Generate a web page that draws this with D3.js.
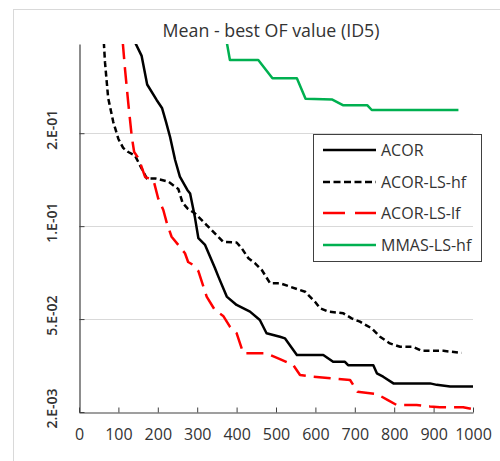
<!DOCTYPE html>
<html><head><meta charset="utf-8">
<script src="https://cdn.jsdelivr.net/npm/d3@7"></script>
<style>body{margin:0;background:#fff}svg{display:block}</style>
</head><body><svg id="c" width="500" height="461"></svg>
<script>
const title = "Mean - best OF value (ID5)";
const xTicks = [0,100,200,300,400,500,600,700,800,900,1000];
const yTicks = [0.002,0.052,0.102,0.152];
const yTickLabels = ["2.E-03","5.E-02","1.E-01","2.E-01"];
const seriesNames = ["ACOR","ACOR-LS-hf","ACOR-LS-lf","MMAS-LS-hf"];

const acorX = [142,159,173,197,211,221,231,244,256,275,282,294,303,320,345,354,375,400,434,459,476,510,523,553,620,645,675,683,747,756,772,798,891,908,942,1000];
const acorY = [0.201,0.1936,0.1782,0.1699,0.1654,0.158,0.1501,0.1376,0.1286,0.1215,0.1196,0.107,0.0955,0.0919,0.0795,0.0747,0.0641,0.0596,0.056,0.0515,0.0444,0.0425,0.0416,0.0327,0.0327,0.029,0.029,0.0272,0.0272,0.0228,0.021,0.0174,0.0174,0.0166,0.0157,0.0157];

const hfX = [63,66,74,87,100,112,125,142,172,193,227,252,263,277,294,324,354,366,400,413,430,447,464,485,510,536,574,599,612,633,671,692,713,743,764,789,815,848,870,925,971];
const hfY = [0.201,0.1901,0.171,0.158,0.1489,0.1441,0.1419,0.14,0.1277,0.1277,0.1259,0.122,0.1145,0.1112,0.1089,0.1026,0.0961,0.0935,0.0932,0.0901,0.0847,0.082,0.0784,0.0713,0.0713,0.0694,0.0667,0.0613,0.0578,0.056,0.0551,0.0524,0.0506,0.047,0.0425,0.0389,0.0371,0.0371,0.0349,0.0349,0.0338];

const lfX = [111,117,125,134,140,151,168,189,201,214,223,235,252,269,277,290,303,324,345,366,383,400,417,468,485,510,544,561,595,645,688,707,756,784,806,857,891,916,975,997];
const lfY = [0.201,0.186,0.1683,0.15,0.1419,0.1385,0.1284,0.1268,0.1169,0.1107,0.1036,0.0963,0.0919,0.0874,0.0827,0.0811,0.0778,0.0641,0.0568,0.0537,0.0479,0.0444,0.0336,0.0336,0.0327,0.0305,0.0272,0.0219,0.021,0.0201,0.0192,0.0129,0.0117,0.0084,0.0058,0.0058,0.005,0.0046,0.0046,0.0036];

const mmasX = [375,383,455,491,553,575,643,671,732,743,963];
const mmasY = [0.201,0.1914,0.1914,0.1816,0.1816,0.1706,0.1701,0.167,0.167,0.1645,0.1645];

const FONT = "'Open Sans', sans-serif";
const TXT = "#333333";
const svg = d3.select("#c");
const L = 79, R = 473, T = 44, B = 412;
const x = d3.scaleLinear().domain([0,1000]).range([L,R]);
const y = d3.scaleLinear().domain([0.002,0.2]).range([B,T]);

// outer chart frame
svg.append("rect").attr("x",13.5).attr("y",9.5).attr("width",520).attr("height",470)
  .attr("fill","none").attr("stroke","#d9d9d9").attr("stroke-width",1);

// title
svg.append("text").attr("x",271).attr("y",37).attr("text-anchor","middle")
  .attr("font-family",FONT).attr("font-size",17.8).attr("fill",TXT).text(title);

// gridlines
svg.append("g").selectAll("line").data(yTicks.slice(1)).join("line")
  .attr("x1",L).attr("x2",R).attr("y1",d=>Math.round(y(d))+0.5).attr("y2",d=>Math.round(y(d))+0.5)
  .attr("stroke","#d9d9d9").attr("stroke-width",1);

// axes
const xAxis = svg.append("g").attr("transform",`translate(0,${B+0.5})`)
  .call(d3.axisBottom(x).tickValues(xTicks).tickFormat(d3.format("d")).tickSizeInner(-5).tickSizeOuter(0).tickPadding(16));
xAxis.select(".domain").attr("stroke","#404040").attr("stroke-width",1.2);
xAxis.selectAll(".tick line").attr("stroke","#404040");
xAxis.selectAll("text").attr("font-family",FONT).attr("font-size",16).attr("fill",TXT);

const yAxis = svg.append("g").attr("transform",`translate(${L+0.5},0)`)
  .call(d3.axisLeft(y).tickValues(yTicks).tickFormat((d,i)=>yTickLabels[i]).tickSizeInner(-5).tickSizeOuter(0));
yAxis.select(".domain").attr("stroke","#404040").attr("stroke-width",1.2);
yAxis.selectAll(".tick line").attr("stroke","#404040");
yAxis.selectAll(".tick text").attr("transform","translate(-27,-4) rotate(-90)")
  .attr("x",0).attr("dy","0.35em").attr("text-anchor","middle")
  .attr("font-family",FONT).attr("font-size",14).attr("font-weight",600).attr("fill",TXT);

// clip
svg.append("clipPath").attr("id","plot").append("rect").attr("x",L).attr("y",T).attr("width",R-L+5).attr("height",B-T);

const series = [
  {name:seriesNames[0], xs:acorX, ys:acorY, color:"#000000", dash:null},
  {name:seriesNames[1], xs:hfX, ys:hfY, color:"#000000", dash:"6,3.5"},
  {name:seriesNames[2], xs:lfX, ys:lfY, color:"#ff0000", dash:"17,8"},
  {name:seriesNames[3], xs:mmasX, ys:mmasY, color:"#00b050", dash:null}
];
const line = d3.line().x(d=>x(d[0])).y(d=>y(d[1]));
const g = svg.append("g").attr("clip-path","url(#plot)");
[3,1,2,0].forEach(i=>{
  const s = series[i];
  g.append("path").datum(s.xs.map((v,k)=>[v,s.ys[k]]))
    .attr("d",line).attr("fill","none").attr("stroke",s.color).attr("stroke-width",2.5)
    .attr("stroke-linejoin","round")
    .attr("stroke-dasharray",s.dash);
});

// legend
const lg = svg.append("g");
lg.append("rect").attr("x",313.5).attr("y",134.5).attr("width",168).attr("height",127)
  .attr("fill","none").attr("stroke","#404040").attr("stroke-width",1);
const rowY = [150,182,213,245];
series.forEach((s,i)=>{
  lg.append("line").attr("x1",323).attr("x2",376).attr("y1",rowY[i]).attr("y2",rowY[i])
    .attr("stroke",s.color).attr("stroke-width",2.5).attr("stroke-dasharray",s.dash?(i===2?"22,10":"7,3.5"):null);
  lg.append("text").attr("x",381).attr("y",rowY[i]).attr("dy","0.35em")
    .attr("font-family",FONT).attr("font-size",16).attr("fill",TXT).text(s.name);
});
</script></body></html>
